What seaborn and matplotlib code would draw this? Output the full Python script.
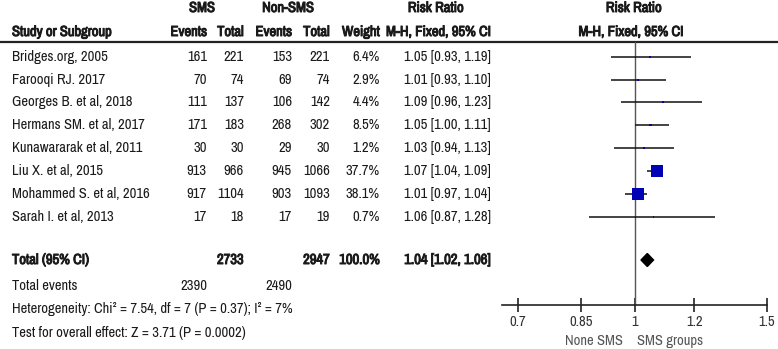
import matplotlib
matplotlib.use("Agg")
import matplotlib.pyplot as plt
import matplotlib.patheffects as pe
import seaborn as sns
import pandas as pd
from matplotlib.ticker import FixedLocator, NullLocator

# dados do forest plot
studies = ["Bridges.org, 2005", "Farooqi RJ. 2017", "Georges B. et al, 2018",
           "Hermans SM. et al, 2017", "Kunawararak et al, 2011", "Liu X. et al, 2015",
           "Mohammed S. et al, 2016", "Sarah I. et al, 2013"]
sms_events = [161, 70, 111, 171, 30, 913, 917, 17]
sms_total = [221, 74, 137, 183, 30, 966, 1104, 18]
non_events = [153, 69, 106, 268, 29, 945, 903, 17]
non_total = [221, 74, 142, 302, 30, 1066, 1093, 19]
weights = [6.4, 2.9, 4.4, 8.5, 1.2, 37.7, 38.1, 0.7]
rr = [1.05, 1.01, 1.09, 1.05, 1.03, 1.07, 1.01, 1.06]
rr_lo = [0.93, 0.93, 0.96, 1.00, 0.94, 1.04, 0.97, 0.87]
rr_hi = [1.19, 1.10, 1.23, 1.11, 1.13, 1.09, 1.04, 1.28]

total_sms, total_non = 2733, 2947
events_sms, events_non = 2390, 2490
total_rr, total_lo, total_hi = 1.04, 1.02, 1.06
heterogeneity = "Heterogeneity: Chi² = 7.54, df = 7 (P = 0.37); I² = 7%"
overall = "Test for overall effect: Z = 3.71 (P = 0.0002)"

tick_values = [0.7, 0.85, 1, 1.2, 1.5]
tick_labels = ["0.7", "0.85", "1", "1.2", "1.5"]

sns.set_theme(style="white")
plt.rcParams["font.family"] = ["Archivo Narrow", "DejaVu Sans"]
plt.rcParams["font.size"] = 10

W, H = 778, 349
fig = plt.figure(figsize=(W / 100, H / 100), dpi=100)

# eixo de fundo em coordenadas de pixel para a tabela
tab = fig.add_axes([0, 0, 1, 1])
tab.set_xlim(0, W)
tab.set_ylim(H, 0)
tab.axis("off")

txt = "#1a1a1a"
row_y = [57, 80, 102, 125, 148, 171, 194, 217]
y_total, y_events, y_het, y_test = 260, 286, 309, 333

def t(x, y, s, ha="left", bold=False, color=txt, size=10.5):
    # negrito simulado com contorno (a fonte estreita nao tem peso bold)
    eff = [pe.withStroke(linewidth=0.7, foreground=color)] if bold else None
    tab.text(x, y, s, ha=ha, va="center", color=color, fontsize=size, path_effects=eff)

# cabeçalho
t(202, 8, "SMS", "center", True)
t(288, 8, "Non-SMS", "center", True)
t(436, 8, "Risk Ratio", "center", True)
t(634, 8, "Risk Ratio", "center", True)
t(12, 32, "Study or Subgroup", bold=True)
t(207, 32, "Events", "right", True)
t(244, 32, "Total", "right", True)
t(292, 32, "Events", "right", True)
t(330, 32, "Total", "right", True)
t(380, 32, "Weight", "right", True)
t(491, 32, "M-H, Fixed, 95% CI", "right", True)
t(631, 32, "M-H, Fixed, 95% CI", "center", True)
tab.plot([0, W], [41.5, 41.5], color="#222222", lw=1.6)

for i, y in enumerate(row_y):
    t(12, y, studies[i])
    t(207, y, str(sms_events[i]), "right")
    t(244, y, str(sms_total[i]), "right")
    t(292, y, str(non_events[i]), "right")
    t(330, y, str(non_total[i]), "right")
    t(380, y, f"{weights[i]:.1f}%", "right")
    t(491, y, f"{rr[i]:.2f} [{rr_lo[i]:.2f}, {rr_hi[i]:.2f}]", "right")

t(12, y_total, "Total (95% CI)", bold=True)
t(244, y_total, str(total_sms), "right", True)
t(330, y_total, str(total_non), "right", True)
t(380, y_total, "100.0%", "right", True)
t(491, y_total, f"{total_rr:.2f} [{total_lo:.2f}, {total_hi:.2f}]", "right", True)
t(12, y_events, "Total events")
t(207, y_events, str(events_sms), "right")
t(292, y_events, str(events_non), "right")
t(12, y_het, heterogeneity)
t(12, y_test, overall)

t(623, 341, "None SMS", "right", color="#555555")
t(637, 341, "SMS groups", "left", color="#555555")

# painel do forest plot (mesma escala vertical em pixels)
x0, x1, y_axis, y_top = 502, 767, 305, 41.5
ax = fig.add_axes([x0 / W, (H - y_axis) / H, (x1 - x0) / W, (y_axis - y_top) / H])
ax.set_xscale("log")
ax.set_xlim(1 / 1.5, 1.5)
ax.set_ylim(y_axis, y_top)
ax.patch.set_alpha(0)
for side in ["top", "right", "left"]:
    ax.spines[side].set_visible(False)
ax.spines["bottom"].set_color("#222222")
ax.spines["bottom"].set_linewidth(1.2)
ax.set_yticks([])
ax.xaxis.set_major_locator(FixedLocator(tick_values))
ax.xaxis.set_minor_locator(NullLocator())
ax.set_xticklabels(tick_labels)
ax.tick_params(axis="x", direction="inout", length=10, width=1.2, color="#222222",
               labelsize=10.5, labelcolor="#333333", pad=2, bottom=True)

ax.axvline(1, color="#555555", lw=1)

df = pd.DataFrame({"rr": rr, "lo": rr_lo, "hi": rr_hi, "w": weights, "y": row_y})
ax.hlines(df["y"], df["lo"], df["hi"], color="#111111", lw=1.1)
df["side_px"] = (df["w"] * 0.32).clip(lower=1.8)
df["size"] = (df["side_px"] * 0.72) ** 2
sns.scatterplot(data=df, x="rr", y="y", size="size", sizes=(df["size"].min(), df["size"].max()),
                marker="s", color="#0000b4", edgecolor="none", legend=False, ax=ax, zorder=3)

ax.fill([total_lo, total_rr, total_hi, total_rr],
        [y_total, y_total - 6.5, y_total, y_total + 6.5], color="black", zorder=3)

ax.set_xlabel("")
ax.set_ylabel("")
fig.savefig("out.png", dpi=100)
